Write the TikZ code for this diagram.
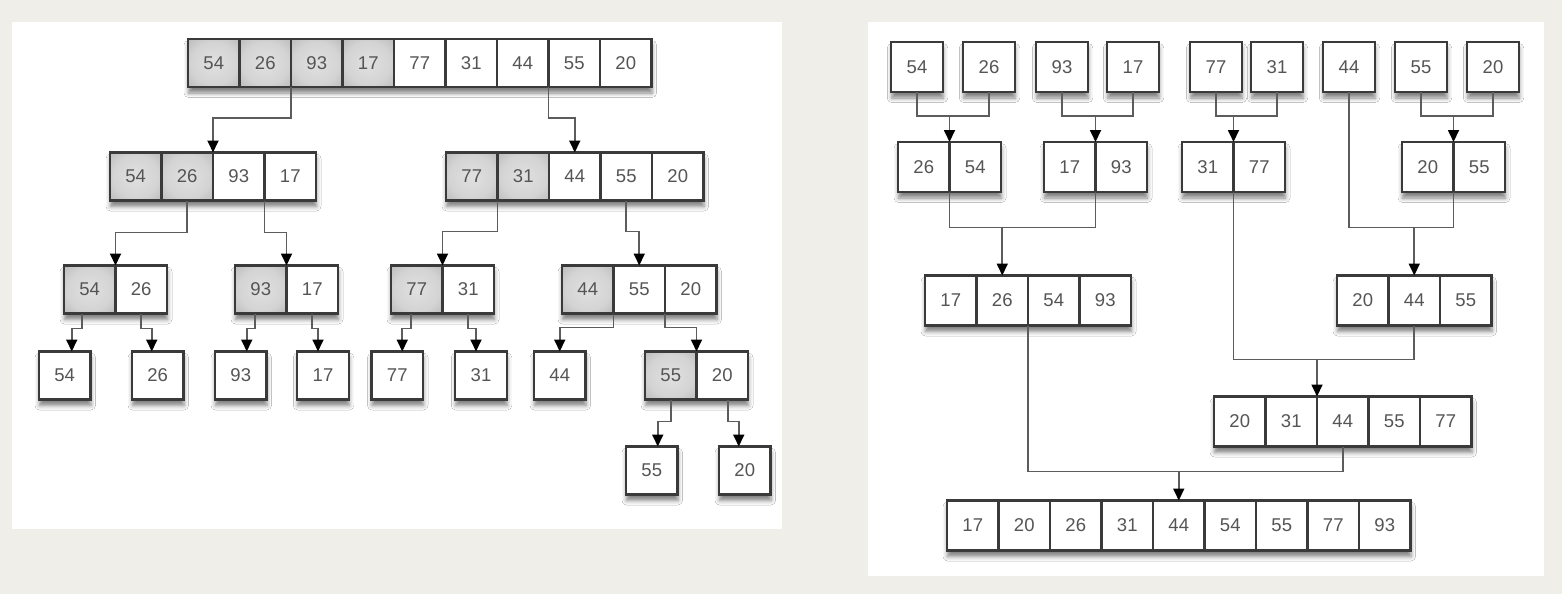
\documentclass[tikz,border=0pt]{standalone}
\usepackage{fontspec}
\setmainfont{Liberation Sans}
\usetikzlibrary{arrows.meta,shadows.blur}
\definecolor{MergeBack}{HTML}{EFEEE8}
\definecolor{MergeEdge}{HTML}{3A3A3A}
\definecolor{MergeInk}{HTML}{555555}
\definecolor{MergeLink}{HTML}{5C5C5C}
\pgfdeclareradialshading{cellglow}{\pgfpoint{0bp}{0bp}}{%
  color(0bp)=(black!12); color(22bp)=(black!17); color(42bp)=(black!31); color(70bp)=(black!44)}
\begin{document}
\begin{tikzpicture}[
  x=1pt, y=-1pt,
  every node/.style={font=\fontsize{18.5}{20}\selectfont, text=MergeInk},
  lifted/.style={blur shadow={shadow xshift=0.5pt, shadow yshift=-6pt, shadow blur radius=4.5pt, shadow opacity=50}},
  cell/.style={draw=MergeEdge, line width=2.2pt, fill=white, minimum width=51.5pt, minimum height=48pt, inner sep=0pt, outer sep=0pt},
  lit/.style={cell, shading=cellglow},
  solo/.style={cell, lifted},
  band/.style={lifted, fill=white, minimum height=48pt, inner sep=0pt, outer sep=0pt, anchor=west},
  link/.style={draw=MergeLink, line width=1.8pt},
  arrow/.style={link, -{Triangle[length=12pt, width=11pt, color=black]}}
]
\path[use as bounding box, fill=MergeBack] (0,0) rectangle (1562,594);
\fill[white] (12,22) rectangle (782,529);
\fill[white] (868,22) rectangle (1544,576);

% splitting
\node[band, minimum width=9*51.5pt] (tb) at (188,63) {};
\foreach \v/\s [count=\i] in {54/lit,26/lit,93/lit,17/lit,77/cell,31/cell,44/cell,55/cell,20/cell}
  \node[\s] (t\i) at (188+51.5*\i-25.75,63) {\v};

\node[band, minimum width=4*51.5pt] (lab) at (110,176.5) {};
\foreach \v/\s [count=\i] in {54/lit,26/lit,93/cell,17/cell}
  \node[\s] (la\i) at (110+51.5*\i-25.75,176.5) {\v};
\node[band, minimum width=5*51.5pt] (lbb) at (446,176.5) {};
\foreach \v/\s [count=\i] in {77/lit,31/lit,44/cell,55/cell,20/cell}
  \node[\s] (lb\i) at (446+51.5*\i-25.75,176.5) {\v};

\node[band, minimum width=2*51.5pt] (lcb) at (64,289.5) {};
\foreach \v/\s [count=\i] in {54/lit,26/cell}
  \node[\s] (lc\i) at (64+51.5*\i-25.75,289.5) {\v};
\node[band, minimum width=2*51.5pt] (ldb) at (235,289.5) {};
\foreach \v/\s [count=\i] in {93/lit,17/cell}
  \node[\s] (ld\i) at (235+51.5*\i-25.75,289.5) {\v};
\node[band, minimum width=2*51.5pt] (leb) at (391,289.5) {};
\foreach \v/\s [count=\i] in {77/lit,31/cell}
  \node[\s] (le\i) at (391+51.5*\i-25.75,289.5) {\v};
\node[band, minimum width=3*51.5pt] (lfb) at (562,289.5) {};
\foreach \v/\s [count=\i] in {44/lit,55/cell,20/cell}
  \node[\s] (lf\i) at (562+51.5*\i-25.75,289.5) {\v};

\node[solo] (h54) at (64.75,375.5) {54};
\node[solo] (h26) at (157.75,375.5) {26};
\node[solo] (h93) at (240.75,375.5) {93};
\node[solo] (h17) at (323,375.5) {17};
\node[solo] (h77) at (397.25,375.5) {77};
\node[solo] (h31) at (481,375.5) {31};
\node[solo] (h44) at (559.75,375.5) {44};
\node[band, minimum width=2*51.5pt] (lib) at (645,375.5) {};
\foreach \v/\s [count=\i] in {55/lit,20/cell}
  \node[\s] (li\i) at (645+51.5*\i-25.75,375.5) {\v};
\node[solo] (j55) at (651.75,470.5) {55};
\node[solo] (j20) at (744.75,470.5) {20};

\draw[arrow] (t2.south east) -- ++(0,31) -| (la2.north east);
\draw[arrow] (t7.south east) -- ++(0,31) -| (lb3.north);
\draw[arrow] (la2.south) -- ++(0,32) -| (lc1.north east);
\draw[arrow] (la3.south east) -- ++(0,32) -| (ld1.north east);
\draw[arrow] (lb1.south east) -- ++(0,31) -| (le1.north east);
\draw[arrow] (lb4.south) -- ++(0,31) -| (lf2.north);
\draw[arrow] ([xshift=-8pt]lc1.south) -- ++(0,15) -| ([xshift=7pt]h54.north);
\draw[arrow] (lc2.south) -- ++(0,15) -| ([xshift=-6pt]h26.north);
\draw[arrow] ([xshift=-6pt]ld1.south) -- ++(0,15) -| ([xshift=6pt]h93.north);
\draw[arrow] (ld2.south) -- ++(0,15) -| ([xshift=-5pt]h17.north);
\draw[arrow] ([xshift=-6pt]le1.south) -- ++(0,15) -| ([xshift=5pt]h77.north);
\draw[arrow] (le2.south) -- ++(0,15) -| ([xshift=-5pt]h31.north);
\draw[arrow] (lf1.south east) -- ++(0,14) -| (h44.north);
\draw[arrow] (lf2.south east) -- ++(0,14) -| (li1.north east);
\draw[arrow] (li1.south) -- ++(0,22) -| ([xshift=6pt]j55.north);
\draw[arrow] ([xshift=6pt]li2.south) -- ++(0,22) -| ([xshift=-6pt]j20.north);

% merging
\begin{scope}[cell/.append style={minimum height=50pt}, band/.append style={minimum height=50pt}]
\node[solo] (s1) at (917,67) {54};
\node[solo] (s2) at (989,67) {26};
\node[solo] (s3) at (1062,67) {93};
\node[solo] (s4) at (1133,67) {17};
\node[solo] (s5) at (1216,67) {77};
\node[solo] (s6) at (1277,67) {31};
\node[solo] (s7) at (1349,67) {44};
\node[solo] (s8) at (1421,67) {55};
\node[solo] (s9) at (1493,67) {20};

\node[band, minimum width=2*51.5pt] (pab) at (898,167) {};
\foreach \v [count=\i] in {26,54}
  \node[cell] (pa\i) at (898+51.5*\i-25.75,167) {\v};
\node[band, minimum width=2*51.5pt] (pbb) at (1044,167) {};
\foreach \v [count=\i] in {17,93}
  \node[cell] (pb\i) at (1044+51.5*\i-25.75,167) {\v};
\node[band, minimum width=2*51.5pt] (pcb) at (1182,167) {};
\foreach \v [count=\i] in {31,77}
  \node[cell] (pc\i) at (1182+51.5*\i-25.75,167) {\v};
\node[band, minimum width=2*51.5pt] (pdb) at (1402,167) {};
\foreach \v [count=\i] in {20,55}
  \node[cell] (pd\i) at (1402+51.5*\i-25.75,167) {\v};

\node[band, minimum width=4*51.5pt] (qab) at (925,300.5) {};
\foreach \v [count=\i] in {17,26,54,93}
  \node[cell] (qa\i) at (925+51.5*\i-25.75,300.5) {\v};
\node[band, minimum width=3*51.5pt] (qbb) at (1337,300.5) {};
\foreach \v [count=\i] in {20,44,55}
  \node[cell] (qb\i) at (1337+51.5*\i-25.75,300.5) {\v};

\node[band, minimum width=5*51.5pt] (rdb) at (1214,421.5) {};
\foreach \v [count=\i] in {20,31,44,55,77}
  \node[cell] (rd\i) at (1214+51.5*\i-25.75,421.5) {\v};

\node[band, minimum width=9*51.5pt] (reb) at (947,525.5) {};
\foreach \v [count=\i] in {17,20,26,31,44,54,55,77,93}
  \node[cell] (re\i) at (947+51.5*\i-25.75,525.5) {\v};
\end{scope}

\path (pa1.north east) ++(0,-26) coordinate (m1);
\path (pb1.north east) ++(0,-26) coordinate (m2);
\path (pc1.north east) ++(0,-26) coordinate (m3);
\path (pd1.north east) ++(0,-26) coordinate (m4);
\path (qa2.north) ++(0,-48) coordinate (m5);
\path (qb2.north) ++(0,-48) coordinate (m6);
\path (rd2.north east) ++(0,-37) coordinate (m7);
\path (re5.north) ++(0,-29) coordinate (m8);

\draw[link] (s1.south) |- (m1) -| (s2.south);
\draw[arrow] (m1) -- (pa1.north east);
\draw[link] (s3.south) |- (m2) -| (s4.south);
\draw[arrow] (m2) -- (pb1.north east);
\draw[link] (s5.south) |- (m3) -| (s6.south);
\draw[arrow] (m3) -- (pc1.north east);
\draw[link] (s8.south) |- (m4) -| (s9.south);
\draw[arrow] (m4) -- (pd1.north east);
\draw[link] (pa1.south east) |- (m5) -| (pb1.south east);
\draw[arrow] (m5) -- (qa2.north);
\draw[link] (s7.south) |- (m6) -| (pd1.south east);
\draw[arrow] (m6) -- (qb2.north);
\draw[link] (pc1.south east) |- (m7) -| (qb2.south);
\draw[arrow] (m7) -- (rd2.north east);
\draw[link] (qa2.south east) |- (m8) -| (rd3.south);
\draw[arrow] (m8) -- (re5.north);
\end{tikzpicture}
\end{document}
